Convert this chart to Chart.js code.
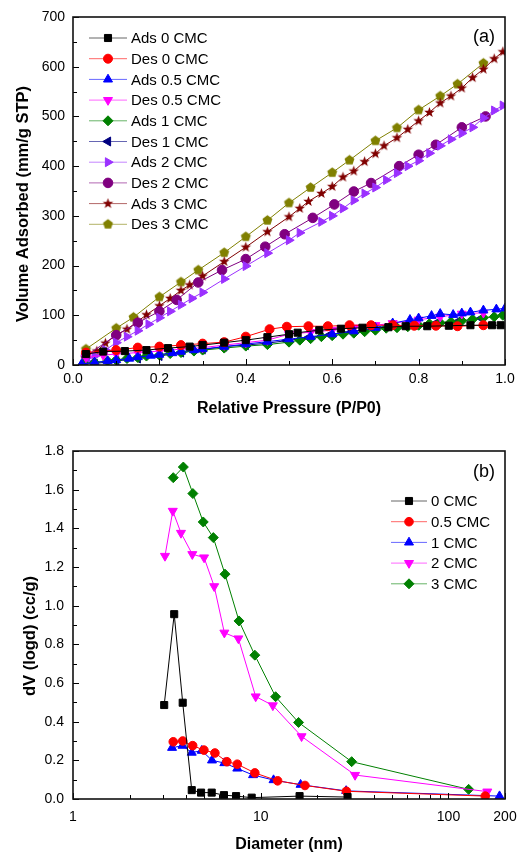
<!DOCTYPE html>
<html>
<head>
<meta charset="utf-8">
<script src="https://cdn.jsdelivr.net/npm/chart.js@4.4.1/dist/chart.umd.min.js"></script>
<style>
  html, body { margin: 0; padding: 0; background: #fff; }
  canvas { display: block; }
</style>
</head>
<body>
<canvas id="chartA" width="521" height="430"></canvas>
<canvas id="chartB" width="521" height="425"></canvas>
<script>
// ---- (a) isotherms: relative pressure / volume adsorbed ----
const ads0P = [0.03, 0.07, 0.12, 0.17, 0.22, 0.27, 0.30, 0.35, 0.40, 0.45, 0.50, 0.52, 0.57, 0.62, 0.67, 0.73, 0.77, 0.82, 0.87, 0.92, 0.97, 0.99];
const ads0V = [22, 27, 28, 30, 34, 37, 40, 45, 50, 56, 62, 65, 70, 73, 75, 76, 78, 78, 79, 80, 80, 80];
const des0P = [0.03, 0.10, 0.15, 0.20, 0.25, 0.30, 0.35, 0.40, 0.455, 0.495, 0.545, 0.59, 0.64, 0.69, 0.74, 0.79, 0.84, 0.89, 0.95];
const des0V = [25, 30, 35, 37, 40, 43, 46, 57, 72, 77, 78, 78, 80, 80, 80, 79, 79, 78, 80];
const ads05P = [0.02, 0.05, 0.08, 0.10, 0.13, 0.15, 0.18, 0.20, 0.23, 0.25, 0.28, 0.30, 0.35, 0.40, 0.45, 0.50, 0.55, 0.60, 0.65, 0.70, 0.74, 0.78, 0.80, 0.83, 0.85, 0.88, 0.90, 0.92, 0.95, 0.98, 1.0];
const ads05V = [2, 5, 8, 10, 13, 16, 19, 21, 24, 27, 30, 32, 37, 42, 47, 52, 57, 62, 68, 75, 84, 91, 94, 99, 103, 101, 104, 106, 110, 112, 114];
const des05P = [0.03, 0.07, 0.10, 0.15, 0.20, 0.25, 0.30, 0.35, 0.40, 0.45, 0.50, 0.55, 0.60, 0.65, 0.70, 0.74, 0.80, 0.85, 0.90, 0.95];
const des05V = [15, 20, 22, 25, 28, 32, 35, 40, 45, 50, 62, 66, 70, 75, 80, 84, 91, 97, 103, 105];
const ads1P = [0.025, 0.05, 0.08, 0.10, 0.125, 0.15, 0.17, 0.20, 0.225, 0.25, 0.28, 0.30, 0.35, 0.40, 0.45, 0.50, 0.525, 0.55, 0.575, 0.60, 0.625, 0.65, 0.675, 0.70, 0.725, 0.75, 0.775, 0.80, 0.825, 0.85, 0.875, 0.90, 0.925, 0.95, 0.975, 0.995];
const ads1V = [3, 5, 8, 10, 13, 15, 18, 20, 23, 25, 28, 30, 34, 38, 41, 46, 50, 53, 57, 59, 62, 64, 67, 70, 74, 75, 77, 80, 83, 85, 87, 89, 92, 95, 97, 100];
const des1P = [0.05, 0.10, 0.15, 0.20, 0.25, 0.30, 0.35, 0.40, 0.45, 0.495, 0.545, 0.595, 0.645, 0.695, 0.745, 0.79, 0.84, 0.89, 0.945];
const des1V = [3, 8, 13, 18, 25, 31, 37, 40, 44, 49, 55, 61, 67, 72, 77, 80, 84, 87, 94];
const ads2P = [0.03, 0.05, 0.075, 0.10, 0.125, 0.15, 0.175, 0.20, 0.225, 0.25, 0.275, 0.30, 0.35, 0.40, 0.45, 0.50, 0.525, 0.575, 0.60, 0.625, 0.65, 0.675, 0.70, 0.725, 0.75, 0.775, 0.80, 0.825, 0.85, 0.875, 0.90, 0.925, 0.95, 0.975, 0.995];
const ads2V = [8, 18, 30, 45, 57, 69, 82, 95, 108, 121, 134, 146, 173, 199, 225, 251, 266, 288, 300, 315, 331, 345, 357, 372, 386, 400, 411, 426, 441, 454, 466, 478, 497, 512, 522];
const des2P = [0.03, 0.10, 0.15, 0.20, 0.24, 0.29, 0.345, 0.40, 0.445, 0.49, 0.555, 0.605, 0.65, 0.69, 0.755, 0.80, 0.84, 0.90, 0.955];
const des2V = [18, 60, 85, 108, 131, 166, 191, 213, 238, 263, 296, 323, 349, 366, 400, 423, 443, 478, 500];
const ads3P = [0.03, 0.055, 0.075, 0.10, 0.125, 0.15, 0.17, 0.20, 0.225, 0.25, 0.27, 0.30, 0.35, 0.40, 0.45, 0.50, 0.525, 0.545, 0.575, 0.60, 0.625, 0.65, 0.675, 0.70, 0.72, 0.75, 0.775, 0.80, 0.825, 0.85, 0.875, 0.90, 0.925, 0.95, 0.975, 0.995];
const ads3V = [20, 28, 44, 60, 72, 88, 101, 119, 134, 150, 161, 179, 208, 237, 268, 298, 315, 329, 345, 359, 378, 390, 409, 425, 441, 457, 474, 491, 508, 527, 541, 557, 578, 595, 616, 630];
const des3P = [0.03, 0.10, 0.14, 0.20, 0.25, 0.29, 0.35, 0.40, 0.45, 0.50, 0.55, 0.60, 0.64, 0.70, 0.75, 0.80, 0.85, 0.89, 0.95];
const des3V = [32, 74, 96, 137, 167, 191, 226, 258, 291, 326, 357, 387, 412, 451, 477, 513, 541, 565, 607];

const isoTicksX = [0, 0.2, 0.4, 0.6, 0.8, 1.0];
const isoMinorX = [0.1, 0.3, 0.5, 0.7, 0.9];
const isoTicksY = [0, 100, 200, 300, 400, 500, 600, 700];
const isoMinorY = [50, 150, 250, 350, 450, 550, 650];

// ---- (b) pore size distribution: diameter / dV(logd) ----
const psd0D = [3.06, 3.46, 3.84, 4.29, 4.81, 5.48, 6.37, 7.39, 8.95, 16.1, 29];
const psd0V = [0.486, 0.956, 0.498, 0.046, 0.033, 0.033, 0.02, 0.015, 0.007, 0.015, 0.01];
const psd05D = [3.42, 3.84, 4.34, 4.98, 5.7, 6.6, 7.5, 9.3, 12.3, 17.2, 28.6, 157];
const psd05V = [0.296, 0.30, 0.276, 0.253, 0.238, 0.193, 0.18, 0.135, 0.094, 0.07, 0.04, 0.015];
const psd1D = [3.37, 3.83, 4.29, 4.85, 5.5, 6.4, 7.5, 9.1, 11.7, 16.3, 28.5, 187];
const psd1V = [0.265, 0.276, 0.24, 0.25, 0.20, 0.186, 0.158, 0.124, 0.098, 0.074, 0.042, 0.015];
const psd2D = [3.09, 3.4, 3.76, 4.32, 4.99, 5.65, 6.4, 7.6, 9.4, 11.6, 16.5, 31.8, 161];
const psd2V = [1.257, 1.49, 1.376, 1.266, 1.249, 1.10, 0.86, 0.83, 0.53, 0.484, 0.324, 0.124, 0.038];
const psd3D = [3.42, 3.87, 4.35, 4.94, 5.59, 6.45, 7.66, 9.3, 12.0, 15.9, 30.5, 128];
const psd3V = [1.662, 1.717, 1.58, 1.433, 1.352, 1.163, 0.921, 0.744, 0.529, 0.396, 0.193, 0.05];

const psdTicksX = [1, 10, 100, 200];
const psdMinorX = [2, 3, 4, 5, 6, 7, 8, 9, 20, 30, 40, 50, 60, 70, 80, 90];
const psdTicksY = [0, 0.2, 0.4, 0.6, 0.8, 1.0, 1.2, 1.4, 1.6, 1.8];
const psdMinorY = [0.1, 0.3, 0.5, 0.7, 0.9, 1.1, 1.3, 1.5, 1.7];

const FONT = '"Liberation Sans", Arial, sans-serif';

// filled star / pentagon markers (Chart.js has no filled versions)
function polyMarker(color, n, rOut, rIn) {
  const s = Math.ceil(rOut * 2) + 2;
  const c = document.createElement('canvas');
  c.width = c.height = s;
  const g = c.getContext('2d');
  g.fillStyle = color;
  g.beginPath();
  const k = rIn ? n * 2 : n;
  for (let i = 0; i < k; i++) {
    const r = rIn && i % 2 ? rIn : rOut;
    const a = -Math.PI / 2 + i * 2 * Math.PI / k;
    g.lineTo(s / 2 + r * Math.cos(a), s / 2 + r * Math.sin(a));
  }
  g.closePath();
  g.fill();
  return c;
}

function series(label, xs, ys, color, style, rot, r) {
  return {
    label: label,
    data: xs.map((x, i) => ({ x: x, y: ys[i] })),
    borderColor: color,
    backgroundColor: color,
    borderWidth: 1,
    pointStyle: style,
    pointRotation: rot || 0,
    pointRadius: r || 4.5,
    pointBorderWidth: 1,
    pointBorderColor: color,
    pointBackgroundColor: color,
    tension: 0
  };
}

const decor = {
  id: 'decor',
  afterDraw(chart, args, o) {
    const { ctx, chartArea: a, scales } = chart;
    ctx.save();
    ctx.strokeStyle = '#000';
    ctx.lineWidth = 1;
    const mark = (sc, vals, len) => vals.forEach(v => {
      const p = Math.round(sc.getPixelForValue(v)) + 0.5;
      ctx.beginPath();
      if (sc.axis === 'x') { ctx.moveTo(p, a.bottom); ctx.lineTo(p, a.bottom - len); }
      else { ctx.moveTo(a.left, p); ctx.lineTo(a.left + len, p); }
      ctx.stroke();
    });
    mark(scales.x, o.xMajor, 6);
    mark(scales.x, o.xMinor, 4);
    mark(scales.y, o.yMajor, 6);
    mark(scales.y, o.yMinor, 4);
    ctx.lineWidth = 1.6;
    ctx.strokeStyle = '#111';
    ctx.strokeRect(a.left, a.top, a.right - a.left, a.bottom - a.top);

    ctx.fillStyle = '#000';
    ctx.font = '18px ' + FONT;
    ctx.textAlign = 'right';
    ctx.textBaseline = 'middle';
    ctx.fillText(o.tag, a.right - 10, a.top + o.tagDy);

    // y axis title, a little below the middle as in the original
    ctx.save();
    ctx.translate(o.yTitleX, (a.top + a.bottom) / 2 + o.yTitleShift);
    ctx.rotate(-Math.PI / 2);
    ctx.textAlign = 'center';
    ctx.font = 'bold 16.5px ' + FONT;
    ctx.fillText(o.yTitle, 0, 0);
    ctx.restore();

    // legend
    ctx.font = '15px ' + FONT;
    ctx.textAlign = 'left';
    chart.data.datasets.forEach((ds, i) => {
      const y = o.legY + i * o.legDy;
      ctx.strokeStyle = ds.borderColor;
      ctx.globalAlpha = 0.6;
      ctx.lineWidth = 1;
      ctx.beginPath();
      ctx.moveTo(o.legX, y);
      ctx.lineTo(o.legX + o.legLen, y);
      ctx.stroke();
      ctx.globalAlpha = 1;
      ctx.fillStyle = ds.backgroundColor;
      Chart.helpers.drawPoint(ctx, {
        pointStyle: ds.pointStyle,
        rotation: ds.pointRotation,
        radius: ds.pointRadius,
        borderWidth: 1
      }, o.legX + o.legLen / 2, y);
      ctx.fillStyle = '#000';
      ctx.fillText(ds.label, o.legX + o.legLen + 4, y + 1);
    });
    ctx.restore();
  }
};

function baseOptions(cfg) {
  return {
    responsive: false,
    animation: false,
    layout: { padding: { left: 0, right: 16, top: cfg.top, bottom: 0 } },
    plugins: {
      legend: { display: false },
      tooltip: { enabled: false },
      decor: cfg.decor
    },
    scales: {
      x: Object.assign({
        grid: { display: false, drawTicks: false },
        border: { display: false },
        afterFit: s => { s.height = cfg.xh; s.paddingLeft = 0; s.paddingRight = 0; },
        ticks: {
          color: '#000', font: { family: FONT, size: 14 }, padding: cfg.xPad,
          maxRotation: 0, autoSkip: false
        },
        title: {
          display: true, text: cfg.xTitle, color: '#000',
          font: { family: FONT, size: 16, weight: 'bold' },
          padding: { top: 0, bottom: cfg.xTitlePad }
        }
      }, cfg.x),
      y: Object.assign({
        grid: { display: false, drawTicks: false },
        border: { display: false },
        afterFit: s => { s.width = 73; s.paddingTop = 0; s.paddingBottom = 0; },
        ticks: { color: '#000', font: { family: FONT, size: 14 }, padding: 8 }
      }, cfg.y)
    }
  };
}

const star = polyMarker('#800000', 5, 5.5, 2.3);
const pent = polyMarker('#808000', 5, 5.2);

const isoOpts = baseOptions({
  top: 17, xh: 65, xPad: 6, xTitlePad: 12,
  xTitle: 'Relative Pressure (P/P0)',
  decor: {
    xMajor: isoTicksX, xMinor: isoMinorX, yMajor: isoTicksY, yMinor: isoMinorY,
    tag: '(a)', tagDy: 20, legX: 89, legY: 38, legDy: 20.7, legLen: 38,
    yTitle: 'Volume Adsorbed (mm/g STP)', yTitleX: 23, yTitleShift: 13
  },
  x: {
    type: 'linear', min: 0, max: 1,
    afterBuildTicks: s => { s.ticks = isoTicksX.map(v => ({ value: v })); }
  },
  y: {
    type: 'linear', min: 0, max: 700,
    afterBuildTicks: s => { s.ticks = isoTicksY.map(v => ({ value: v })); }
  }
});
isoOpts.scales.x.ticks.callback = v => v.toFixed(1);

new Chart(document.getElementById('chartA'), {
  type: 'line',
  data: {
    datasets: [
      series('Ads 0 CMC', ads0P, ads0V, '#000000', 'rect', 0, 5),
      series('Des 0 CMC', des0P, des0V, '#ff0000', 'circle', 0, 4.5),
      series('Ads 0.5 CMC', ads05P, ads05V, '#0000ff', 'triangle', 0, 5.2),
      series('Des 0.5 CMC', des05P, des05V, '#ff00ff', 'triangle', 180, 5.2),
      series('Ads 1 CMC', ads1P, ads1V, '#008000', 'rectRot', 0, 5),
      series('Des 1 CMC', des1P, des1V, '#000080', 'triangle', 270, 5.2),
      series('Ads 2 CMC', ads2P, ads2V, '#9b30ff', 'triangle', 90, 5.2),
      series('Des 2 CMC', des2P, des2V, '#800080', 'circle', 0, 4.8),
      series('Ads 3 CMC', ads3P, ads3V, '#800000', star, 0, 5),
      series('Des 3 CMC', des3P, des3V, '#808000', pent, 0, 5)
    ]
  },
  options: isoOpts,
  plugins: [decor]
});

const psdOpts = baseOptions({
  top: 21, xh: 56, xPad: 10, xTitlePad: 0.5,
  xTitle: 'Diameter (nm)',
  decor: {
    xMajor: psdTicksX, xMinor: psdMinorX, yMajor: psdTicksY, yMinor: psdMinorY,
    tag: '(b)', tagDy: 21, legX: 391, legY: 71, legDy: 20.7, legLen: 36,
    yTitle: 'dV (logd) (cc/g)', yTitleX: 30, yTitleShift: 11
  },
  x: {
    type: 'logarithmic', min: 1, max: 200,
    afterBuildTicks: s => { s.ticks = psdTicksX.map(v => ({ value: v })); }
  },
  y: {
    type: 'linear', min: 0, max: 1.8,
    afterBuildTicks: s => { s.ticks = psdTicksY.map(v => ({ value: v })); }
  }
});
psdOpts.scales.x.ticks.callback = v => String(v);
psdOpts.scales.y.ticks.callback = v => v.toFixed(1);
psdOpts.scales.y.ticks.padding = 9;

new Chart(document.getElementById('chartB'), {
  type: 'line',
  data: {
    datasets: [
      series('0 CMC', psd0D, psd0V, '#000000', 'rect', 0, 5),
      series('0.5 CMC', psd05D, psd05V, '#ff0000', 'circle', 0, 4.3),
      series('1 CMC', psd1D, psd1V, '#0000ff', 'triangle', 0, 5.2),
      series('2 CMC', psd2D, psd2V, '#ff00ff', 'triangle', 180, 5.2),
      series('3 CMC', psd3D, psd3V, '#008000', 'rectRot', 0, 5)
    ]
  },
  options: psdOpts,
  plugins: [decor]
});
</script>
</body>
</html>
